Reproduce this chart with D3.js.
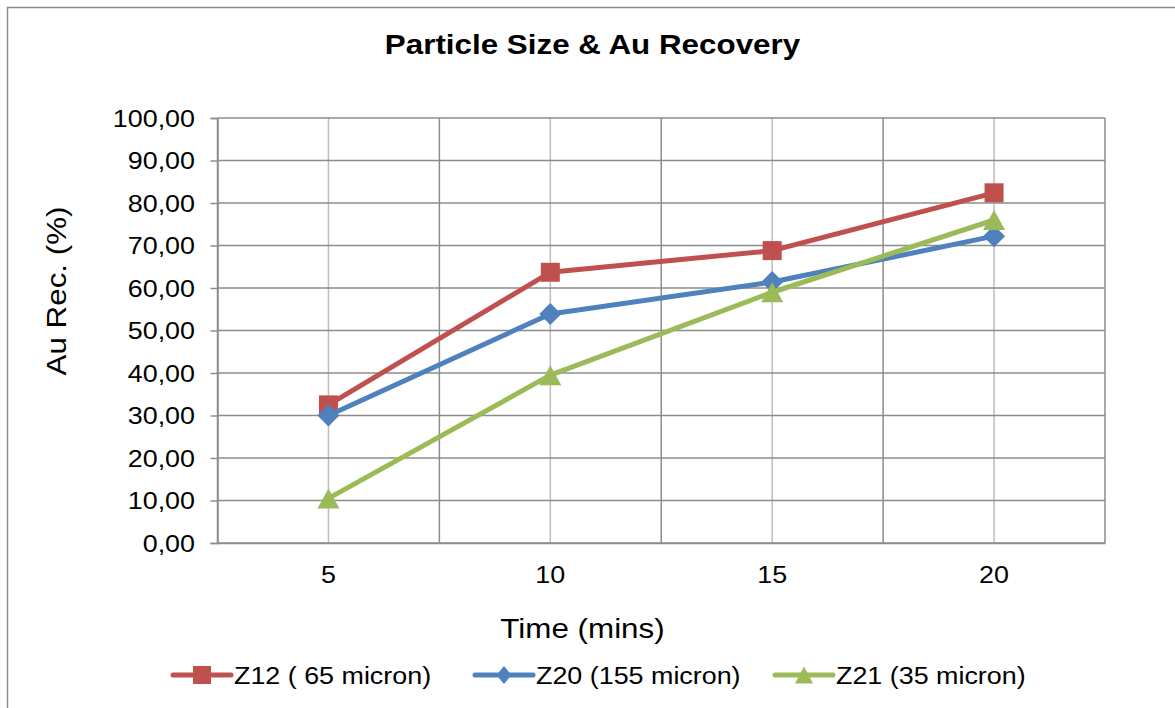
<!DOCTYPE html>
<html>
<head>
<meta charset="utf-8">
<script src="https://cdn.jsdelivr.net/npm/d3@7/dist/d3.min.js"></script>
<style>
  html, body { margin: 0; padding: 0; background: #fff; }
  svg { display: block; font-family: "Liberation Sans", Arial, sans-serif; }
</style>
</head>
<body>
<svg id="chart" width="1175" height="708"></svg>
<script>
// Sampling times (minutes) and gold recovery (%) per particle size sample
const times = ["5", "10", "15", "20"];
const z12 = [32.5, 63.7, 68.8, 82.4];
const z20 = [30.0, 53.9, 61.4, 72.2];
const z21 = [10.5, 39.5, 59.0, 76.0];
const seriesNames = ["Z12 ( 65 micron)", "Z20 (155 micron)", "Z21 (35 micron)"];
const seriesColors = ["#C0504D", "#4F81BD", "#9BBB59"];
const seriesMarkers = ["square", "diamond", "triangle"];
const yTicks = [0, 10, 20, 30, 40, 50, 60, 70, 80, 90, 100];

const series = [z12, z20, z21].map((vals, i) => ({
  name: seriesNames[i], color: seriesColors[i], marker: seriesMarkers[i], values: vals
}));

const svg = d3.select("#chart");
const plot = { left: 217.5, right: 1105, top: 118, bottom: 543 };
const SX = 1.12; // horizontal widening of the text glyphs

// Chart frame
svg.append("rect")
  .attr("x", 7.5).attr("y", 7.5).attr("width", 1200).attr("height", 760)
  .attr("fill", "#fff").attr("stroke", "#8c8c8c").attr("stroke-width", 1.5);

const x = d3.scaleBand().domain(times).range([plot.left, plot.right]).padding(0);
const y = d3.scaleLinear().domain([0, 100]).range([plot.bottom, plot.top]);

// Minor vertical gridlines at category centres
svg.append("g").selectAll("line").data(times).join("line")
  .attr("x1", d => x(d) + x.bandwidth() / 2).attr("x2", d => x(d) + x.bandwidth() / 2)
  .attr("y1", plot.top).attr("y2", plot.bottom)
  .attr("stroke", "#bdbdbd").attr("stroke-width", 1.5);

// Major vertical gridlines at category boundaries
const bounds = times.map(t => x(t)).concat([plot.right]);
svg.append("g").selectAll("line").data(bounds).join("line")
  .attr("x1", d => d).attr("x2", d => d)
  .attr("y1", plot.top).attr("y2", plot.bottom)
  .attr("stroke", "#8c8c8c").attr("stroke-width", 1.5);

// Horizontal gridlines
svg.append("g").selectAll("line").data(yTicks).join("line")
  .attr("x1", plot.left).attr("x2", plot.right)
  .attr("y1", d => y(d)).attr("y2", d => y(d))
  .attr("stroke", "#8c8c8c").attr("stroke-width", 1.5);

// Y axis
const fmt = v => d3.format(".2f")(v).replace(".", ",");
const yAxis = svg.append("g")
  .attr("transform", `translate(${plot.left},0)`)
  .call(d3.axisLeft(y).tickValues(yTicks).tickFormat(fmt).tickSize(7).tickPadding(15));
yAxis.select(".domain").attr("stroke", "#8c8c8c").attr("stroke-width", 1.5);
yAxis.selectAll(".tick line").attr("stroke", "#8c8c8c").attr("stroke-width", 1.5);
yAxis.selectAll(".tick text")
  .attr("font-size", 24).attr("fill", "#000")
  .attr("font-family", "Liberation Sans, Arial, sans-serif")
  .attr("x", -22.5 / SX).attr("dy", "0.35em")
  .attr("transform", `scale(${SX},1)`);

// X axis
const xAxis = svg.append("g")
  .attr("transform", `translate(0,${plot.bottom})`)
  .call(d3.axisBottom(x).tickSize(0).tickPadding(23));
xAxis.select(".domain").attr("stroke", "#8c8c8c").attr("stroke-width", 1.5);
xAxis.selectAll(".tick text")
  .attr("font-size", 24).attr("fill", "#000")
  .attr("font-family", "Liberation Sans, Arial, sans-serif")
  .attr("transform", `scale(${SX},1)`);

// Titles
function addText(px, py, rot, size, weight, str) {
  svg.append("text")
    .attr("transform", `translate(${px},${py}) rotate(${rot}) scale(${SX},1)`)
    .attr("text-anchor", "middle").attr("font-size", size)
    .attr("font-weight", weight).attr("fill", "#000").text(str);
}
addText(592.5, 54, 0, 28, "bold", "Particle Size & Au Recovery");
addText(582.5, 637.5, 0, 28, "normal", "Time (mins)");
addText(66, 291, -90, 28, "normal", "Au Rec.  (%)");

// Marker shapes
function markerPath(type, w, h) {
  h = h || w;
  if (type === "square") return `M${-w/2},${-h/2}h${w}v${h}h${-w}Z`;
  if (type === "diamond") return `M0,${-h/2}L${w/2},0L0,${h/2}L${-w/2},0Z`;
  return `M0,${-h/2}L${w/2},${h/2}L${-w/2},${h/2}Z`;
}
const markerDims = { square: [19, 19], diamond: [22, 22], triangle: [22, 20] };
const legendDims = { square: [18, 18], diamond: [15, 18], triangle: [18, 17] };

const line = d3.line()
  .x((d, i) => x(times[i]) + x.bandwidth() / 2)
  .y(d => y(d));

series.forEach(s => {
  const g = svg.append("g");
  g.append("path").attr("d", line(s.values)).attr("fill", "none")
    .attr("stroke", s.color).attr("stroke-width", 5).attr("stroke-linejoin", "round");
  g.selectAll("path.m").data(s.values).join("path").attr("class", "m")
    .attr("transform", (d, i) => `translate(${x(times[i]) + x.bandwidth() / 2},${y(d)})`)
    .attr("d", markerPath(s.marker, ...markerDims[s.marker]))
    .attr("fill", s.color);
});

// Legend
const legendX = [173, 475, 775];
const legend = svg.append("g");
series.forEach((s, i) => {
  const g = legend.append("g").attr("transform", `translate(${legendX[i]},675)`);
  g.append("line").attr("x1", 0).attr("x2", 58).attr("y1", 0).attr("y2", 0)
    .attr("stroke", s.color).attr("stroke-width", 5).attr("stroke-linecap", "round");
  g.append("path").attr("transform", "translate(29,0)")
    .attr("d", markerPath(s.marker, ...legendDims[s.marker])).attr("fill", s.color);
  g.append("text").attr("transform", `translate(61,8.5) scale(${SX},1)`)
    .attr("font-size", 24).attr("fill", "#000").text(s.name);
});
</script>
</body>
</html>
